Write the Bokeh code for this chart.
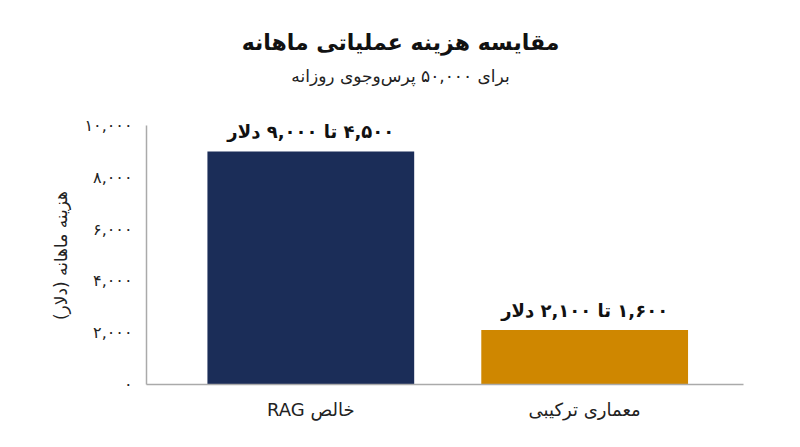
import math
from bokeh.plotting import figure
from bokeh.models import Range1d, Label, FixedTicker
from bokeh.core.properties import value
from bokeh.embed import file_html
from bokeh.resources import INLINE

categories = ["RAG خالص", "معماری ترکیبی"]
costs = [9000, 2100]
range_low = [4500, 1600]
range_high = [9000, 2100]
colors = ["#1B2D58", "#CF8700"]
y_ticks = [0, 2000, 4000, 6000, 8000, 10000]
title_text = "مقایسه هزینه عملیاتی ماهانه"
subtitle_text = "برای ۵۰,۰۰۰ پرس‌وجوی روزانه"
y_label = "هزینه ماهانه (دلار)"

FONT = "DejaVu Sans"
PERSIAN = str.maketrans("0123456789", "۰۱۲۳۴۵۶۷۸۹")
RLE, PDF = "\u202B", "\u202C"


def fa(n):
    return f"{n:,}".translate(PERSIAN)


bar_labels = [RLE + f"{fa(lo)} تا {fa(hi)} دلار" + PDF for lo, hi in zip(range_low, range_high)]
xs = list(range(len(categories)))

# page geometry of the plotting area (pixels)
W, H = 792, 439
ax_left, ax_right, ax_top, ax_bottom = 146, 743, 125, 384
x0, x1 = -0.6, 1.58
y_max = 10000
px_per_x = (ax_right - ax_left) / (x1 - x0)
px_per_y = (ax_bottom - ax_top) / y_max


def dx(px):
    return x0 + (px - ax_left) / px_per_x


def dy(py):
    return (ax_bottom - py) / px_per_y


p = figure(width=W, height=H, output_backend="svg", toolbar_location=None, title=None,
           x_range=Range1d(dx(0), dx(W)), y_range=Range1d(dy(H), dy(0)),
           min_border=0)
p.outline_line_color = None
p.grid.grid_line_color = None
p.background_fill_color = "white"
p.border_fill_color = "white"

p.vbar(x=xs, top=costs, width=0.755, color=colors, line_color=None)
p.text(x=xs, y=costs, text=bar_labels, text_align="center", text_baseline="bottom",
       y_offset=-9, text_font=value(FONT), text_font_style="bold",
       text_font_size="18px", text_color="#111111")

# axes drawn at fixed positions inside the canvas
p.xaxis.fixed_location = 0
p.xaxis.bounds = (x0, x1)
p.yaxis.fixed_location = x0
p.yaxis.bounds = (0, y_max)
p.xaxis.ticker = FixedTicker(ticks=xs)
p.xaxis.major_label_overrides = {i: c for i, c in zip(xs, categories)}
p.yaxis.ticker = FixedTicker(ticks=y_ticks)
p.yaxis.major_label_overrides = {t: fa(t) for t in y_ticks}
for ax in (p.xaxis, p.yaxis):
    ax.axis_line_color = "#AAAAAA"
    ax.axis_line_width = 1.5
    ax.major_tick_line_color = None
    ax.minor_tick_line_color = None
    ax.major_label_text_font = FONT
    ax.major_label_text_color = "#222222"
p.xaxis.major_label_text_font_size = "18px"
p.xaxis.major_label_standoff = 8
p.yaxis.major_label_text_font_size = "16px"
p.yaxis.major_label_standoff = 8

# titles and the vertical axis title
p.add_layout(Label(x=dx(400), y=dy(42), text=RLE + title_text + PDF,
                   text_align="center", text_baseline="middle", text_font=FONT,
                   text_font_style="bold", text_font_size="22px", text_color="#111111"))
p.add_layout(Label(x=dx(400), y=dy(75), text=RLE + subtitle_text + PDF,
                   text_align="center", text_baseline="middle", text_font=FONT,
                   text_font_size="17px", text_color="#222222"))
p.add_layout(Label(x=dx(60), y=dy(255), text=RLE + y_label + PDF, angle=math.pi / 2,
                   text_align="center", text_baseline="middle", text_font=FONT,
                   text_font_size="17px", text_color="#222222"))

open("out.html", "w").write(file_html(p, INLINE))
